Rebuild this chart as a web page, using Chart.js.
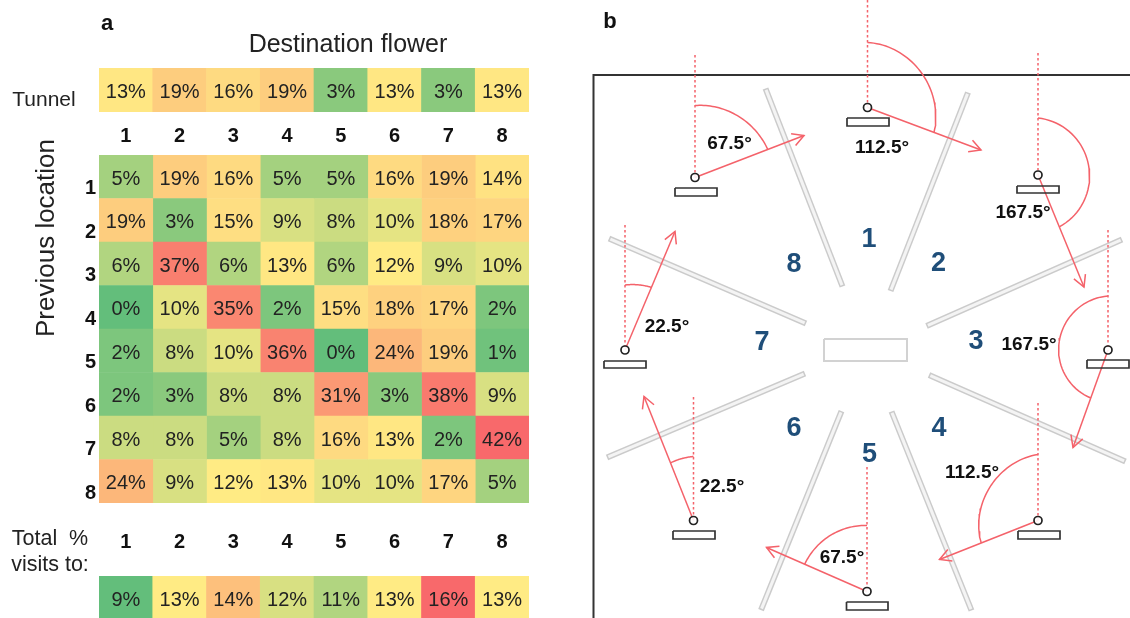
<!DOCTYPE html>
<html>
<head>
<meta charset="utf-8">
<title>Destination flower</title>
<script src="https://cdn.jsdelivr.net/npm/chart.js@4"></script>
<style>
    html, body { margin: 0; background: #fff; overflow: hidden; }
    #page { position: relative; width: 1130px; height: 618px; overflow: hidden; }
    canvas { position: absolute; }
</style>
</head>
<body>
<div id="page">
    <canvas id="diagram_chart" width="1130" height="618" style="left:0;top:0"></canvas>
    <canvas id="tunnel_chart" width="430" height="87" style="left:99px;top:68px"></canvas>
    <canvas id="matrix_chart" width="529" height="348" style="left:0;top:155px"></canvas>
    <canvas id="total_chart" width="430" height="90" style="left:99px;top:530px"></canvas>
</div>
<script>
// Panel a : pourcentages
const flowers = ['1', '2', '3', '4', '5', '6', '7', '8'];
const tunnelRow = [13, 19, 16, 19, 3, 13, 3, 13];
const row1 = [5, 19, 16, 5, 5, 16, 19, 14];
const row2 = [19, 3, 15, 9, 8, 10, 18, 17];
const row3 = [6, 37, 6, 13, 6, 12, 9, 10];
const row4 = [0, 10, 35, 2, 15, 18, 17, 2];
const row5 = [2, 8, 10, 36, 0, 24, 19, 1];
const row6 = [2, 3, 8, 8, 31, 3, 38, 9];
const row7 = [8, 8, 5, 8, 16, 13, 2, 42];
const row8 = [24, 9, 12, 13, 10, 10, 17, 5];
const totalRow = [9, 13, 14, 12, 11, 13, 16, 13];
const matrixRows = [row1, row2, row3, row4, row5, row6, row7, row8];

// Panel b : plan de la volière, en coordonnées du schéma
const flowerSpots = [[695, 177.5], [867.5, 107.5], [1038, 175], [1108, 350], [1038, 520.5], [867, 591.5], [693.5, 520.5], [625, 350]];
const plateSpans = [[675, 717, 188, 196], [847, 889, 118, 126], [1017, 1059, 186, 193], [1087, 1129, 360, 368], [1018, 1060, 531, 539], [846.5, 888, 602, 610], [673, 715, 531, 539], [604, 646, 361, 368]];
const dottedFrom = [55, 0, 53, 230, 403, 467, 397, 225];
const arrowTips = [[804, 135.5], [981, 150], [1084, 287], [1073, 447.5], [939.5, 559.5], [766.5, 547.5], [644, 396.5], [675, 231.5]];
const arcStartRadius = [72, 65, 57, 54, 66, 66, 64, 65];
const arcEndRadius = [78, 71, 56, 51, 61, 68, 62, 68];
const arcSag = [0, 4, 5, 3, 5, 0, 0, 0];
const arcClockwise = [true, true, true, false, false, false, false, true];
const walls = [
    [[765.5, 88.5], [842.5, 286.5]],
    [[968, 92.5], [890.5, 291]],
    [[1122, 239.5], [926.5, 326]],
    [[929, 375], [1125.5, 461.5]],
    [[891.5, 411.5], [971.5, 610.5]],
    [[841.5, 411], [761, 610]],
    [[805, 373.5], [607, 457.5]],
    [[806, 323.5], [609, 238.5]]
];
const centreBox = [[824, 339], [907, 339], [907, 361], [824, 361], [824, 339]];
const frameLine = [[1130, 75], [593.5, 75], [593.5, 618]];

const boldSmall = 'bold 19px "Liberation Sans"';
const plain = '21.5px "Liberation Sans"';
const sectorNumber = 'bold 27px "Liberation Sans"';
const sectorBlue = '#1f4e79';
// texte, x, y, police, couleur, rotation
const notes = [
    ['a', 107, 23.5, 'bold 22px "Liberation Sans"', '#111', 0],
    ['b', 610, 21.5, 'bold 22px "Liberation Sans"', '#111', 0],
    ['Destination flower', 348, 45, '25px "Liberation Sans"', '#222', 0],
    ['Tunnel', 44, 100.5, '21px "Liberation Sans"', '#222', 0],
    ['Previous location', 47, 238, '26px "Liberation Sans"', '#222', -Math.PI / 2],
    ['Total  %', 50, 539.5, plain, '#222', 0],
    ['visits to:', 50, 565.5, plain, '#222', 0],
    ['67.5°', 729.5, 144, boldSmall, '#111', 0],
    ['112.5°', 882, 148, boldSmall, '#111', 0],
    ['167.5°', 1023, 213, boldSmall, '#111', 0],
    ['167.5°', 1029, 345, boldSmall, '#111', 0],
    ['112.5°', 972, 473, boldSmall, '#111', 0],
    ['67.5°', 842, 558, boldSmall, '#111', 0],
    ['22.5°', 722, 487, boldSmall, '#111', 0],
    ['22.5°', 667, 327, boldSmall, '#111', 0],
    ['1', 869, 240, sectorNumber, sectorBlue, 0],
    ['2', 938.5, 264, sectorNumber, sectorBlue, 0],
    ['3', 976, 342, sectorNumber, sectorBlue, 0],
    ['4', 939, 429, sectorNumber, sectorBlue, 0],
    ['5', 869.5, 454.5, sectorNumber, sectorBlue, 0],
    ['6', 794, 429, sectorNumber, sectorBlue, 0],
    ['7', 762, 343, sectorNumber, sectorBlue, 0],
    ['8', 794, 265, sectorNumber, sectorBlue, 0]
];

const red = '#f4626a';
const greenEnd = [99, 190, 123];
const yellowMid = [255, 235, 132];
const redEnd = [248, 105, 107];
const tickFont = { size: 20, weight: 'bold' };
const flatLayout = { padding: 0, autoPadding: false };

// Echelle à 3 couleurs vert / jaune / rouge
function heatColor(value, low, mid, high) {
    let from = yellowMid, to = redEnd, t = (value - mid) / (high - mid);
    if (value < mid) {
        from = greenEnd;
        to = yellowMid;
        t = (value - low) / (mid - low);
    }
    let mix = from.map((c, i) => Math.round(c + (to[i] - c) * t));
    return 'rgb(' + mix.join(',') + ')';
}

// Ecrit le pourcentage au centre de chaque case
const cellLabels = {
    id: 'cellLabels',
    afterDatasetsDraw(chart) {
        let ctx = chart.ctx;
        ctx.save();
        ctx.font = '20px "Liberation Sans"';
        ctx.fillStyle = '#222';
        ctx.textAlign = 'center';
        ctx.textBaseline = 'middle';
        chart.data.datasets.forEach((dataset, d) => {
            chart.getDatasetMeta(d).data.forEach((bar, i) => {
                let c = bar.getCenterPoint();
                ctx.fillText(dataset.percent[i] + '%', c.x, c.y + 2.5);
            });
        });
        ctx.restore();
    }
};

function stripOptions(tickPadding, axisHeight, position) {
    return {
        responsive: false,
        animation: false,
        layout: flatLayout,
        plugins: { legend: { display: false }, tooltip: { enabled: false } },
        scales: {
            x: {
                position: position,
                grid: { display: false, drawTicks: false },
                border: { display: false },
                ticks: { padding: tickPadding, font: tickFont, color: '#111', maxRotation: 0 },
                afterFit: scale => {
                    scale.height = axisHeight;
                    scale.paddingLeft = 0;
                    scale.paddingRight = 0;
                }
            },
            y: { display: false, min: 0, max: 1 }
        }
    };
}

function createStrip(canvas, values, low, mid, high, options) {
    new Chart(canvas, {
        type: 'bar',
        data: {
            labels: flowers,
            datasets: [{
                percent: values,
                data: values.map(() => 1),
                backgroundColor: values.map(v => heatColor(v, low, mid, high)),
                barPercentage: 1,
                categoryPercentage: 1
            }]
        },
        options: options,
        plugins: [cellLabels]
    });
}

function createMatrix(canvas) {
    new Chart(canvas, {
        type: 'bar',
        data: {
            labels: flowers,
            datasets: flowers.map((name, col) => {
                let values = matrixRows.map(row => row[col]);
                return {
                    label: name,
                    percent: values,
                    data: values.map(() => 1),
                    backgroundColor: values.map(v => heatColor(v, 0, 12, 42)),
                    barPercentage: 1,
                    categoryPercentage: 1
                };
            })
        },
        options: {
            indexAxis: 'y',
            responsive: false,
            animation: false,
            layout: flatLayout,
            plugins: { legend: { display: false }, tooltip: { enabled: false } },
            scales: {
                x: { stacked: true, min: 0, max: 8, display: false },
                y: {
                    stacked: true,
                    grid: { display: false, drawTicks: false },
                    border: { display: false },
                    ticks: { padding: 3, labelOffset: 12, font: tickFont, color: '#111' },
                    afterFit: scale => {
                        scale.width = 99;
                        scale.paddingTop = 0;
                        scale.paddingBottom = 0;
                    }
                }
            }
        },
        plugins: [cellLabels]
    });
}

function toXY(pairs) {
    return pairs.map(p => ({ x: p[0], y: p[1] }));
}

function lineSet(pairs, color, width, dash) {
    return {
        data: toXY(pairs),
        showLine: true,
        borderColor: color,
        borderWidth: width,
        borderDash: dash || [],
        pointRadius: 0,
        fill: false
    };
}

function arcPairs(i) {
    let c = flowerSpots[i], tip = arrowTips[i];
    let end = Math.atan2(tip[0] - c[0], c[1] - tip[1]);
    if (arcClockwise[i] && end < 0) end += 2 * Math.PI;
    if (!arcClockwise[i] && end > 0) end -= 2 * Math.PI;
    let pairs = [];
    for (let k = 0; k <= 40; k++) {
        let r = arcStartRadius[i] + (arcEndRadius[i] - arcStartRadius[i]) * k / 40 - arcSag[i] * Math.sin(Math.PI * k / 40);
        let a = end * k / 40;
        pairs.push([c[0] + r * Math.sin(a), c[1] - r * Math.cos(a)]);
    }
    return pairs;
}

function headPairs(i) {
    let c = flowerSpots[i], tip = arrowTips[i];
    let dir = Math.atan2(c[1] - tip[1], c[0] - tip[0]);
    let barb = a => [tip[0] + 13 * Math.cos(dir + a), tip[1] + 13 * Math.sin(dir + a)];
    return [barb(0.5), tip, barb(-0.5)];
}

// Le coeur blanc du mur s'arrête un peu avant les bouts, pour garder les extrémités fermées
function wallCore(w) {
    let dx = w[1][0] - w[0][0], dy = w[1][1] - w[0][1];
    let len = Math.hypot(dx, dy);
    let ux = 1.5 * dx / len, uy = 1.5 * dy / len;
    return [[w[0][0] + ux, w[0][1] + uy], [w[1][0] - ux, w[1][1] - uy]];
}

const pageNotes = {
    id: 'pageNotes',
    afterDatasetsDraw(chart) {
        let ctx = chart.ctx;
        notes.forEach(note => {
            ctx.save();
            ctx.translate(chart.scales.x.getPixelForValue(note[1]), chart.scales.y.getPixelForValue(note[2]));
            ctx.rotate(note[5]);
            ctx.font = note[3];
            ctx.fillStyle = note[4];
            ctx.textAlign = 'center';
            ctx.textBaseline = 'middle';
            ctx.fillText(note[0], 0, 0);
            ctx.restore();
        });
    }
};

function createDiagram(canvas) {
    // du dessous vers le dessus, puis inversé (Chart.js dessine le premier dataset en dernier)
    let layers = [lineSet(frameLine, '#333', 2)];
    walls.forEach(w => layers.push(lineSet(w, '#cbcbcb', 6)));
    walls.forEach(w => layers.push(lineSet(wallCore(w), '#f4f4f4', 3)));
    layers.push(lineSet(centreBox, '#d2d2d2', 2));
    flowerSpots.forEach((spot, i) => {
        layers.push(lineSet([[spot[0], dottedFrom[i]], spot], red, 1.5, [2.5, 2.5]));
        layers.push(lineSet(arcPairs(i), red, 1.5));
        layers.push(lineSet([spot, arrowTips[i]], red, 1.5));
        layers.push(lineSet(headPairs(i), red, 1.5));
        let p = plateSpans[i];
        layers.push(lineSet([[p[0], p[2]], [p[1], p[2]], [p[1], p[3]], [p[0], p[3]], [p[0], p[2]]], '#333', 1.7));
    });
    layers.push({
        data: toXY(flowerSpots),
        pointRadius: 4,
        pointBackgroundColor: 'rgba(255,255,255,0.9)',
        pointBorderColor: '#222',
        pointBorderWidth: 1.7
    });
    new Chart(canvas, {
        type: 'scatter',
        data: { datasets: layers.reverse() },
        options: {
            responsive: false,
            animation: false,
            layout: flatLayout,
            plugins: { legend: { display: false }, tooltip: { enabled: false } },
            scales: {
                x: { type: 'linear', display: false, min: 0, max: 1130 },
                y: { type: 'linear', display: false, min: 0, max: 618, reverse: true }
            }
        },
        plugins: [pageNotes]
    });
}

createDiagram(document.getElementById('diagram_chart'));
createStrip(document.getElementById('tunnel_chart'), tunnelRow, 0, 12, 42, stripOptions(12, 43, 'bottom'));
createMatrix(document.getElementById('matrix_chart'));
createStrip(document.getElementById('total_chart'), totalRow, 9, 13, 16, stripOptions(22, 46, 'top'));
</script>
</body>
</html>
